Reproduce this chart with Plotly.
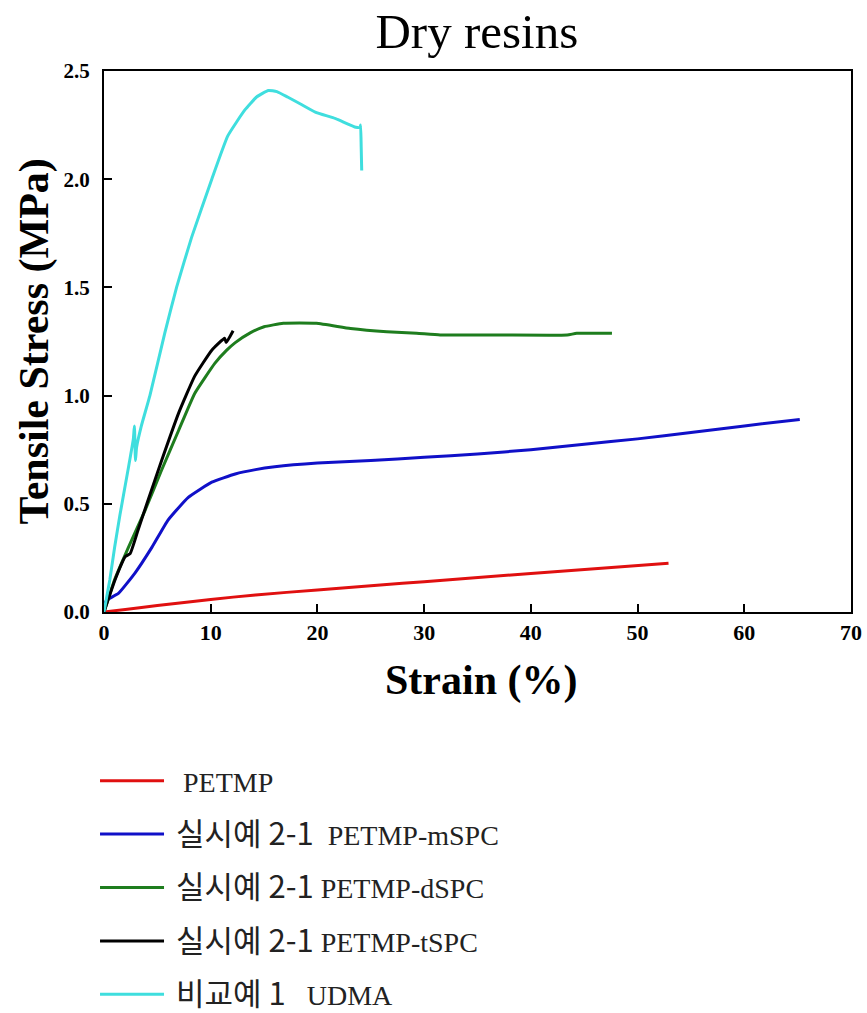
import plotly.graph_objects as go

# ---------------- data ----------------
petmp_x = [0, 2, 5, 10, 14.2, 20, 25.9, 30, 40, 52.9]
petmp_y = [0, 0.012, 0.03, 0.058, 0.079, 0.102, 0.125, 0.14, 0.178, 0.225]

mspc_x = [0, 0.25, 1.35, 2.9, 4.5, 6.0, 7.9, 10.1, 12.3, 14.2, 16, 20, 25, 30, 35, 40, 45, 50, 55, 60, 65.2]
mspc_y = [0.03, 0.055, 0.086, 0.18, 0.30, 0.425, 0.53, 0.60, 0.638, 0.658, 0.671, 0.688, 0.70, 0.715,
          0.73, 0.75, 0.775, 0.80, 0.83, 0.86, 0.89]

dspc_x = [0, 1.0, 2.3, 3.85, 5.4, 7.0, 8.5, 10.4, 11.5, 12.3, 13.7, 15.0, 16.8, 19.9, 23.1, 26.5,
          29.3, 31.5, 37.1, 43.4, 44.3, 47.6]
dspc_y = [0, 0.15, 0.30, 0.47, 0.656, 0.84, 1.01, 1.15, 1.21, 1.245, 1.29, 1.318, 1.334, 1.334, 1.31,
          1.295, 1.288, 1.28, 1.28, 1.28, 1.288, 1.288]

tspc_x = [0, 1.03, 2.0, 2.45, 3.2, 4.15, 5.4, 7.0, 8.5, 10.1, 11.3, 11.45, 12.1]
tspc_y = [0, 0.148, 0.256, 0.27, 0.38, 0.52, 0.70, 0.92, 1.09, 1.21, 1.265, 1.245, 1.30]

udma_x = [0, 0.55, 1.0, 1.5, 2.3, 2.75, 2.85, 2.95, 3.05, 3.5, 4.3, 5.7, 6.8, 8.2, 10.1,
          11.6, 13.2, 14.3, 15.4, 16.2, 17.2, 18.5, 19.8, 21.7, 23.6, 24.0, 24.05, 24.1, 24.15]
udma_y = [0, 0.15, 0.30, 0.45, 0.67, 0.80, 0.86, 0.70, 0.76, 0.86, 1.0, 1.29, 1.50, 1.73, 2.0,
          2.2, 2.32, 2.38, 2.41, 2.405, 2.38, 2.345, 2.31, 2.28, 2.24, 2.24, 2.25, 2.15, 2.04]

KR = "font-family:'Noto Sans CJK KR';font-size:31px"
names = [
    "&nbsp;&nbsp;PETMP",
    f"&nbsp;<span style=\"{KR}\">실시예 2-1</span>&nbsp; PETMP-mSPC",
    f"&nbsp;<span style=\"{KR}\">실시예 2-1</span>&nbsp;PETMP-dSPC",
    f"&nbsp;<span style=\"{KR}\">실시예 2-1</span>&nbsp;PETMP-tSPC",
    f"&nbsp;<span style=\"{KR}\">비교예 1</span>&nbsp;&nbsp; UDMA",
]
colors = ["#e01010", "#1010c8", "#1e7d1e", "#000000", "#3fdede"]
series = [(petmp_x, petmp_y), (mspc_x, mspc_y), (dspc_x, dspc_y), (tspc_x, tspc_y), (udma_x, udma_y)]

fig = go.Figure()
for i, ((xs, ys), nm, c) in enumerate(zip(series, names, colors)):
    fig.add_trace(go.Scatter(x=xs, y=ys, mode="lines", name=nm, legendgroup=f"g{i}",
                             line=dict(color=c, width=3, shape="spline", smoothing=0.4)))

serif = "Liberation Serif, Times New Roman, serif"
fig.update_layout(
    width=867, height=1013,
    margin=dict(l=104, r=16, t=71, b=401, autoexpand=False),
    paper_bgcolor="white", plot_bgcolor="white",
    title=dict(text="Dry resins", x=0.55, xref="container", y=0.97, yanchor="middle",
               xanchor="center",
               font=dict(family=serif, size=49, color="black")),
    showlegend=True,
    legend=dict(x=0.1096, y=0.2537, xanchor="left", yanchor="top", xref="container", yref="container",
                font=dict(family=serif, size=28, color="#222"), tracegroupgap=14,
                itemwidth=64, bgcolor="rgba(0,0,0,0)"),
    annotations=[
        dict(text="<b>Strain (%)</b>", xref="paper", yref="paper", x=0.505, y=-0.1257,
             xanchor="center", yanchor="middle", showarrow=False,
             font=dict(family=serif, size=42, color="black")),
        dict(text="<b>Tensile Stress (MPa)</b>", xref="paper", yref="paper", x=-0.0924, y=0.5,
             xanchor="center", yanchor="middle", showarrow=False, textangle=-90,
             font=dict(family=serif, size=42, color="black")),
    ],
)
fig.update_xaxes(range=[0, 70], dtick=10, tick0=0, ticks="inside", ticklen=8, tickwidth=2,
                 tickcolor="black", showline=True, linewidth=2, linecolor="black", mirror=True,
                 showgrid=False, zeroline=False,
                 tickfont=dict(family=serif, size=22, color="black", weight="bold"))
fig.update_yaxes(range=[0, 2.5], dtick=0.5, tick0=0, tickformat=".1f", ticks="inside", ticklen=8,
                 tickwidth=2, tickcolor="black", showline=True, linewidth=2, linecolor="black",
                 mirror=True, showgrid=False, zeroline=False, ticklabelstandoff=8,
                 tickfont=dict(family=serif, size=21, color="black", weight="bold"))

fig.write_html("out.html")
